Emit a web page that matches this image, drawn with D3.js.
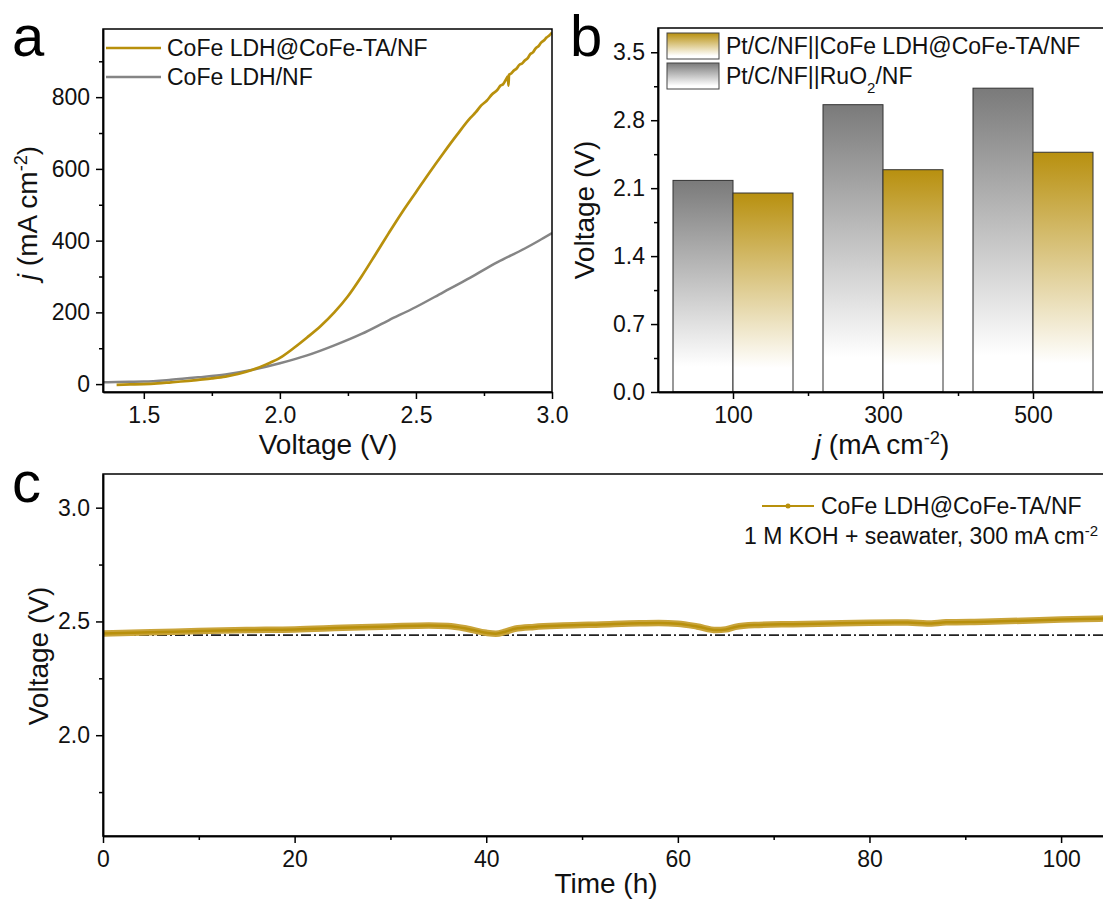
<!DOCTYPE html>
<html><head><meta charset="utf-8">
<script src="https://cdn.jsdelivr.net/npm/d3@7"></script>
<style>
html,body{margin:0;padding:0;background:#fff;}
svg{display:block;font-family:Arial,"Liberation Sans",sans-serif;}
.axis path,.axis line{stroke:#000;stroke-width:1.5;}
.axis text{font-size:23px;fill:#111;font-family:Arial,"Liberation Sans",sans-serif;}
</style></head><body>
<svg id="c" width="1103" height="903"></svg>
<script>
// ---------- DATA ----------
// Panel a: polarization curves (Voltage V, j mA cm-2)
const lsvTAVolt = [1.40,1.45,1.50,1.55,1.60,1.65,1.70,1.75,1.80,1.85,1.90,1.95,2.00,2.05,2.10,2.15,2.20,2.25,2.30,2.35,2.40,2.45,2.50,2.55,2.60,2.65,2.70,2.72,2.74,2.76,2.78,2.80,2.81,2.82,2.83,2.838,2.840,2.842,2.85,2.86,2.87,2.88,2.89,2.90,2.91,2.92,2.93,2.94,2.95,2.96,2.97,2.98,2.99,3.00];
const lsvTAj    = [-2,-1,0,2,5,8,12,16,21,29,40,55,73,100,130,162,200,245,300,360,421,480,535,590,643,694,742,758,777,790,808,821,832,836,848,858,832,862,866,874,880,890,894,902,908,920,925,936,942,952,958,966,972,980];
const lsvLDHVolt = [1.35,1.40,1.50,1.60,1.70,1.80,1.90,2.00,2.10,2.20,2.30,2.40,2.50,2.60,2.70,2.80,2.90,2.95,3.00];
const lsvLDHj    = [5,6,7,12,19,27,40,58,80,108,140,178,215,256,297,340,378,399,421];
const aXTicks = [1.5,2.0,2.5,3.0];
const aXMinor = [1.75,2.25,2.75];
const aYTicks = [0,200,400,600,800];
const aYMinor = [100,300,500,700,900];

// Panel b: cell voltage bars
const bCurrents = [100,300,500];
const bRuO2 = [2.18,2.96,3.13];
const bTA   = [2.05,2.29,2.47];
const bYTicks = [0,0.7,1.4,2.1,2.8,3.5];
const bYMinor = [0.35,1.05,1.75,2.45,3.15];
const bXMinor = [200,400];

// Panel c: stability
const cTime = [0,2,5,10,15,20,25,30,34,36,38,40,41,42,43,45,48,52,56,58,60,62,64,65,66,68,72,76,80,84,86,88,92,96,100,104,105];
const cVolt = [2.447,2.449,2.452,2.458,2.462,2.465,2.472,2.478,2.482,2.480,2.468,2.450,2.446,2.455,2.468,2.476,2.482,2.487,2.492,2.493,2.490,2.478,2.462,2.465,2.476,2.484,2.488,2.491,2.494,2.495,2.491,2.496,2.499,2.503,2.508,2.512,2.513];
const cRef = 2.44;
const cXTicks = [0,20,40,60,80,100];
const cXMinor = [10,30,50,70,90];
const cYTicks = [2.0,2.5,3.0];
const cYMinor = [1.75,2.25,2.75];

const GOLD = "#b8900c", GRAY = "#858585";

const svg = d3.select("#c");
const defs = svg.append("defs");
function grad(id, col){
  const g = defs.append("linearGradient").attr("id",id).attr("x1",0).attr("y1",0).attr("x2",0).attr("y2",1);
  g.append("stop").attr("offset","0%").attr("stop-color",col);
  g.append("stop").attr("offset","88%").attr("stop-color","#fff");
  g.append("stop").attr("offset","100%").attr("stop-color","#fff");
}
grad("gGold","#b8900f");
grad("gGray","#7a7a7a");

function axes(g, x, y, xt, xm, yt, ym, xfmt, yfmt){
  const [x0,x1] = x.range(), [y0,y1] = y.range();
  g.append("g").attr("class","axis").attr("transform",`translate(0,${y0})`)
    .call(d3.axisBottom(x).tickValues(xt).tickFormat(xfmt).tickSize(7).tickPadding(8).tickSizeOuter(0));
  g.append("g").attr("class","axis").attr("transform",`translate(0,${y0})`)
    .call(d3.axisBottom(x).tickValues(xm).tickFormat("").tickSize(4).tickSizeOuter(0));
  g.append("g").attr("class","axis").attr("transform",`translate(${x0},0)`)
    .call(d3.axisLeft(y).tickValues(yt).tickFormat(yfmt).tickSize(7).tickPadding(6).tickSizeOuter(0));
  g.append("g").attr("class","axis").attr("transform",`translate(${x0},0)`)
    .call(d3.axisLeft(y).tickValues(ym).tickFormat("").tickSize(4).tickSizeOuter(0));
  g.append("rect").attr("x",x0).attr("y",y1).attr("width",x1-x0).attr("height",y0-y1)
    .attr("fill","none").attr("stroke","#000").attr("stroke-width",1.5);
}
function label(x,y,rot,parts,size){
  const t = svg.append("text").attr("transform",`translate(${x},${y}) rotate(${rot})`)
    .attr("text-anchor","middle").attr("font-size",size).attr("fill","#111");
  parts.forEach(p=>{
    const s = t.append("tspan").text(p.t);
    if(p.i) s.attr("font-style","italic");
    if(p.sup) s.attr("baseline-shift","super").attr("font-size",size*0.65);
  });
  return t;
}
function letter(x,y,s){ svg.append("text").attr("x",x).attr("y",y).attr("font-size",58).attr("fill","#000").text(s); }

// ---------- Panel a ----------
const xA = d3.scaleLinear().domain([1.35,3.0]).range([103,552]);
const yA = d3.scaleLinear().domain([-22,990]).range([392,29]);
const gA = svg.append("g");
defs.append("clipPath").attr("id","clipA").append("rect").attr("x",103).attr("y",29).attr("width",449).attr("height",363);
const lineAs = d3.line().x(d=>xA(d[0])).y(d=>yA(d[1])).curve(d3.curveMonotoneX);
gA.append("path").datum(d3.zip(lsvLDHVolt,lsvLDHj)).attr("d",lineAs).attr("fill","none").attr("stroke",GRAY).attr("stroke-width",2.5).attr("clip-path","url(#clipA)");
gA.append("path").datum(d3.zip(lsvTAVolt,lsvTAj)).attr("d",lineAs).attr("fill","none").attr("stroke",GOLD).attr("stroke-width",2.7).attr("stroke-linejoin","round").attr("clip-path","url(#clipA)");
axes(gA,xA,yA,aXTicks,aXMinor,aYTicks,aYMinor,d3.format(".1f"),d3.format("d"));
// legend a
[[GOLD,"CoFe LDH@CoFe-TA/NF",48],[GRAY,"CoFe LDH/NF",77]].forEach(([c,t,y])=>{
  gA.append("line").attr("x1",106).attr("x2",161).attr("y1",y).attr("y2",y).attr("stroke",c).attr("stroke-width",2.5);
  gA.append("text").attr("x",167).attr("y",y+8).attr("font-size",23).attr("fill","#111").text(t);
});
label(37,213,-90,[{t:"j",i:true},{t:" (mA cm"},{t:"-2",sup:true},{t:")"}],28);
label(328,454,0,[{t:"Voltage (V)"}],28);
letter(12,56,"a");

// ---------- Panel b ----------
const xB = d3.scaleLinear().domain([0,600]).range([658,1108]);
const yB = d3.scaleLinear().domain([0,3.75]).range([392,28]);
const gB = svg.append("g");
const bw = 80;
gB.selectAll("rect.ru").data(bCurrents).join("rect").attr("class","ru")
  .attr("x",d=>xB(d-bw)).attr("width",d=>xB(d)-xB(d-bw))
  .attr("y",(d,i)=>yB(bRuO2[i])).attr("height",(d,i)=>yB(0)-yB(bRuO2[i]))
  .attr("fill","url(#gGray)").attr("stroke","#333").attr("stroke-width",1);
gB.selectAll("rect.ta").data(bCurrents).join("rect").attr("class","ta")
  .attr("x",d=>xB(d)).attr("width",d=>xB(d+bw)-xB(d))
  .attr("y",(d,i)=>yB(bTA[i])).attr("height",(d,i)=>yB(0)-yB(bTA[i]))
  .attr("fill","url(#gGold)").attr("stroke","#333").attr("stroke-width",1);
axes(gB,xB,yB,bCurrents,bXMinor,bYTicks,bYMinor,d3.format("d"),d3.format(".1f"));
// legend b
[["url(#gGold)",33,[{t:"Pt/C/NF||CoFe LDH@CoFe-TA/NF"}]],["url(#gGray)",63,[{t:"Pt/C/NF||RuO"},{t:"2",sub:true},{t:"/NF"}]]].forEach(([f,y,parts])=>{
  gB.append("rect").attr("x",667).attr("y",y).attr("width",52).attr("height",26).attr("fill",f).attr("stroke","#444").attr("stroke-width",1);
  const t = gB.append("text").attr("x",726).attr("y",y+21).attr("font-size",23).attr("fill","#111");
  parts.forEach(p=>{const s=t.append("tspan").text(p.t); if(p.sub) s.attr("baseline-shift","sub").attr("font-size",15);});
});
label(594,210,-90,[{t:"Voltage (V)"}],28);
label(882,454,0,[{t:"j",i:true},{t:" (mA cm"},{t:"-2",sup:true},{t:")"}],28);
letter(570,56,"b");

// ---------- Panel c ----------
const xC = d3.scaleLinear().domain([0,105]).range([103,1109]);
const yC = d3.scaleLinear().domain([1.557,3.148]).range([836,474]);
const gC = svg.append("g");
gC.append("line").attr("x1",xC(0)).attr("x2",xC(105)).attr("y1",yC(cRef)).attr("y2",yC(cRef))
  .attr("stroke","#222").attr("stroke-width",1.6).attr("stroke-dasharray","10,3,2,3");
const lineC = d3.line().x(d=>xC(d[0])).y(d=>yC(d[1])).curve(d3.curveMonotoneX);
const cData = d3.zip(cTime,cVolt);
gC.append("path").datum(cData).attr("d",lineC).attr("fill","none").attr("stroke","#c9a43a").attr("stroke-width",6.5);
gC.append("path").datum(cData).attr("d",lineC).attr("fill","none").attr("stroke",GOLD).attr("stroke-width",2.5);
axes(gC,xC,yC,cXTicks,cXMinor,cYTicks,cYMinor,d3.format("d"),d3.format(".1f"));
// legend c
gC.append("line").attr("x1",762).attr("x2",814).attr("y1",506).attr("y2",506).attr("stroke",GOLD).attr("stroke-width",2);
gC.append("circle").attr("cx",788).attr("cy",506).attr("r",2.5).attr("fill",GOLD);
gC.append("text").attr("x",821).attr("y",514).attr("font-size",23).attr("fill","#111").text("CoFe LDH@CoFe-TA/NF");
const t2 = gC.append("text").attr("x",1098).attr("y",544).attr("font-size",23).attr("fill","#111").attr("text-anchor","end");
t2.append("tspan").text("1 M KOH + seawater, 300 mA cm");
t2.append("tspan").text("-2").attr("baseline-shift","super").attr("font-size",15);
label(48,656,-90,[{t:"Voltage (V)"}],28);
label(606,893,0,[{t:"Time (h)"}],28);
letter(12,502,"c");
</script>
</body></html>
